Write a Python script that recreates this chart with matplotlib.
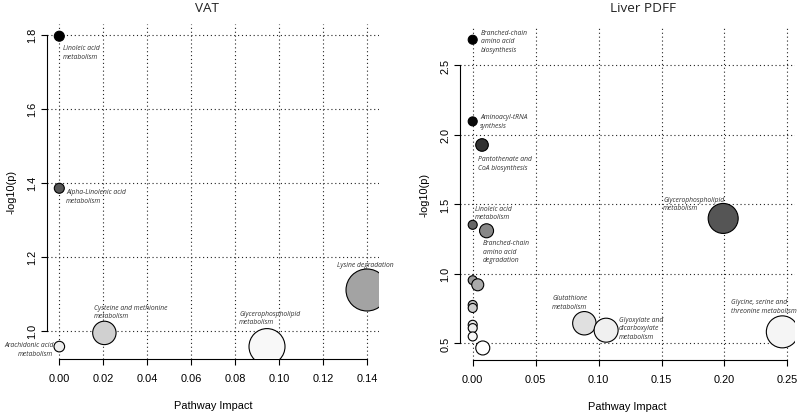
import matplotlib
matplotlib.use("Agg")
import matplotlib.pyplot as plt

# VAT panel data
vat_impact = [0.0, 0.0, 0.14, 0.0205, 0.0945, 0.0]
vat_logp = [1.796, 1.385, 1.11, 0.994, 0.957, 0.957]
vat_names = ["Linoleic acid\nmetabolism", "Alpha-Linolenic acid\nmetabolism",
             "Lysine degradation", "Cysteine and methionine\nmetabolism",
             "Glycerophospholipid\nmetabolism", "Arachidonic acid\nmetabolism"]
vat_radius = [5, 5, 21, 11.7, 18, 5.3]
vat_fill = ["#000000", "#555555", "#a3a3a3", "#d0d0d0", "#f8f8f8", "#eeeeee"]
vat_ticks_x = [0.0, 0.02, 0.04, 0.06, 0.08, 0.10, 0.12, 0.14]
vat_ticks_y = [1.0, 1.2, 1.4, 1.6, 1.8]

# Liver PDFF panel data
liv_impact = [0.0, 0.0, 0.0074, 0.199, 0.0, 0.011, 0.0, 0.004, 0.0, 0.0,
              0.0, 0.0, 0.0, 0.008, 0.0887, 0.106, 0.246]
liv_logp = [2.684, 2.096, 1.926, 1.397, 1.351, 1.308, 0.952, 0.919, 0.774, 0.752,
            0.631, 0.607, 0.547, 0.464, 0.642, 0.592, 0.580]
liv_names = ["Branched-chain\namino acid\nbiosynthesis", "Aminoacyl-tRNA\nsynthesis",
             "Pantothenate and\nCoA biosynthesis", "Glycerophospholipid\nmetabolism",
             "Linoleic acid\nmetabolism", "Branched-chain\namino acid\ndegradation",
             "", "", "", "", "", "", "", "",
             "Glutathione\nmetabolism", "Glyoxylate and\ndicarboxylate\nmetabolism",
             "Glycine, serine and\nthreonine metabolism"]
liv_radius = [4.5, 4.5, 6.3, 15, 4.5, 7, 4.5, 6, 4.5, 4.5, 4.5, 4.5, 4.5, 7,
              11.7, 12, 16]
liv_fill = ["#000000", "#0a0a0a", "#333333", "#555555", "#666666", "#888888",
            "#999999", "#aaaaaa", "#bbbbbb", "#cccccc", "#e6e6e6", "#eeeeee",
            "#f8f8f8", "#ffffff", "#e0e0e0", "#f0f0f0", "#f5f5f5"]
liv_ticks_x = [0.0, 0.05, 0.10, 0.15, 0.20, 0.25]
liv_ticks_y = [0.5, 1.0, 1.5, 2.0, 2.5]

# label offsets (pixels from bubble centre, up is positive), alignment
vat_offsets = [(4, -8, "left", "top"), (7, 0, "left", "top"), (-1.5, 25.6, "center", "center"),
               (-10.6, 29.2, "left", "top"), (-28, 37, "left", "top"), (-6, 5.5, "right", "top")]
liv_offsets = [(8, 11.2, "left", "top"), (7.3, 8.5, "left", "top"), (-4.3, -10.2, "left", "top"),
               (-60, 22.8, "left", "top"), (2.6, 20.2, "left", "top"), (-4, -8.1, "left", "top")] + \
              [(0, 0, "left", "top")] * 8 + \
              [(-32.3, 28.8, "left", "top"), (13, 14.5, "left", "top"), (-51.3, 33.9, "left", "top")]

DPI = 100
fig = plt.figure(figsize=(8, 4.14), dpi=DPI)


def pad_range(vals, pad=0.04):
    lo, hi = min(vals), max(vals)
    d = (hi - lo) * pad
    return lo - d, hi + d


def panel(rect, title, title_x, xs, ys, radii, fills, names, offsets, xt, yt):
    ax = fig.add_axes(rect)
    ax.set_xlim(*pad_range(xs))
    ax.set_ylim(*pad_range(ys))
    sizes = [(2 * r * 72 / DPI) ** 2 for r in radii]
    ax.scatter(xs, ys, s=sizes, c=fills, edgecolors="black", linewidths=0.8, zorder=3)
    for x, y, name, (dx, dy, ha, va) in zip(xs, ys, names, offsets):
        if not name:
            continue
        ax.annotate(name, (x, y), xytext=(dx, dy), textcoords="offset pixels",
                    ha=ha, va=va, fontsize=4.9, style="italic", color="#333333",
                    family="Open Sans", linespacing=1.35, zorder=4,
                    annotation_clip=False)
    ax.set_xticks(xt)
    ax.set_xticklabels(["%.2f" % v for v in xt])
    ax.set_yticks(yt)
    ax.set_yticklabels(["%.1f" % v for v in yt], rotation=90, va="center")
    ax.grid(True, color="#222222", linestyle=(0, (1, 2.5)), linewidth=0.8)
    ax.set_axisbelow(True)
    for s in ["top", "right"]:
        ax.spines[s].set_visible(False)
    ax.spines["left"].set_bounds(yt[0], yt[-1])
    ax.spines["bottom"].set_bounds(xt[0], xt[-1])
    ax.tick_params(length=4, width=0.8, labelsize=7.9)
    ax.tick_params(axis="x", pad=6)
    ax.tick_params(axis="y", pad=3)
    for lab in ax.get_xticklabels() + ax.get_yticklabels():
        lab.set_family("Liberation Sans")
    ax.set_xlabel("Pathway Impact", family="Liberation Sans", fontsize=7.9, labelpad=12)
    ax.set_ylabel("-log10(p)", family="Liberation Sans", fontsize=7.9, labelpad=8)
    # titles sit at the same height in both panels
    fig.text(title_x, 1 - 8.5 / 414, title, family="Open Sans", fontsize=9.7,
             color="#222222", ha="center", va="center")
    return ax


panel([0.05875, 0.1304, 0.4154, 0.8097], "VAT", 207 / 800, vat_impact, vat_logp,
      vat_radius, vat_fill, vat_names, vat_offsets, vat_ticks_x, vat_ticks_y)
panel([0.5754, 0.1273, 0.418, 0.8041], "Liver PDFF", 643 / 800, liv_impact, liv_logp,
      liv_radius, liv_fill, liv_names, liv_offsets, liv_ticks_x, liv_ticks_y)

fig.savefig("out.png", dpi=DPI)
